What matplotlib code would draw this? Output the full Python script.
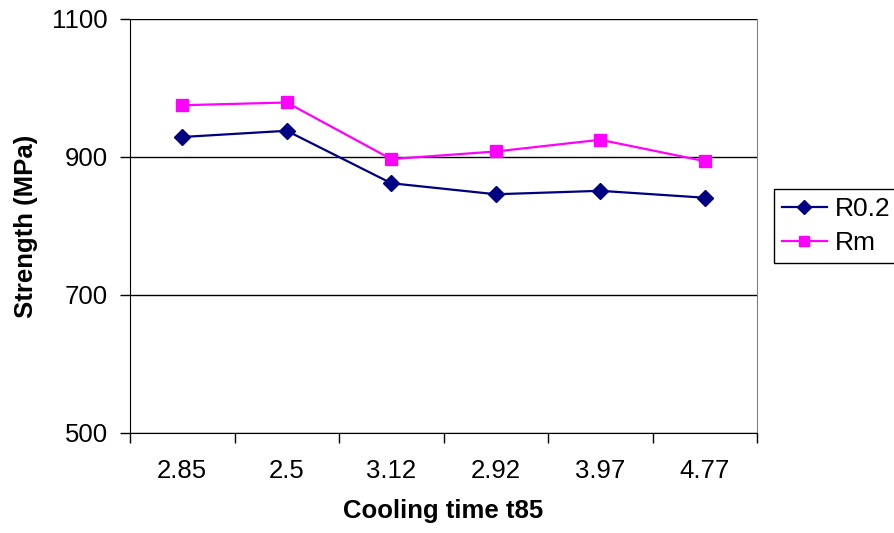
import numpy as np
import matplotlib
matplotlib.use('Agg')
import matplotlib.pyplot as plt

plt.rcParams['font.family'] = ['Liberation Sans', 'DejaVu Sans']

# data
cooling_times = ['2.85', '2.5', '3.12', '2.92', '3.97', '4.77']
r02 = [929, 938, 862, 846, 851, 841]
rm = [975, 979, 897, 908, 925, 894]
y_ticks = [500, 700, 900, 1100]

fig = plt.figure(figsize=(8.95, 5.33), dpi=100)
ax = fig.add_axes([130 / 895, 100 / 533, 627 / 895, 414 / 533])

x = np.arange(len(cooling_times))
ax.plot(x, r02, color='#000080', lw=1.6, marker='D', ms=8.5, label='R0.2')
ax.plot(x, rm, color='#FF00FF', lw=1.6, marker='s', ms=9, label='Rm')

ax.set_xlim(-0.5, len(cooling_times) - 0.5)
ax.set_ylim(500, 1100)
ax.set_yticks(y_ticks)
ax.yaxis.grid(True, color='black', lw=1.0)
ax.set_axisbelow(True)

ax.set_xticks(x, cooling_times)
ax.set_xticks(np.arange(-0.5, len(cooling_times)), minor=True)
ax.tick_params(axis='x', which='major', length=0, pad=19, labelsize=18.5)
ax.tick_params(axis='x', which='minor', length=7, width=1, direction='out')
ax.tick_params(axis='y', length=7, width=1, direction='out', pad=9, labelsize=18.5)

ax.spines['top'].set_visible(False)
ax.spines['right'].set_color('#808080')
for s in ('left', 'bottom'):
    ax.spines[s].set_color('black')

ax.set_xlabel('Cooling time t85', fontsize=18.5, fontweight='bold', labelpad=11)
ax.set_ylabel('Strength (MPa)', fontsize=18.5, fontweight='bold', labelpad=10)

leg = ax.legend(loc='upper left', bbox_to_anchor=(774 / 895, 1 - 189 / 533),
                bbox_transform=fig.transFigure, fontsize=19, frameon=True,
                fancybox=False, edgecolor='black', framealpha=1,
                handlelength=1.7, handletextpad=0.3, borderpad=0.3,
                labelspacing=0.38, borderaxespad=0, markerscale=0.8)
leg.get_frame().set_linewidth(1.0)

fig.savefig('out.png', dpi=100)
